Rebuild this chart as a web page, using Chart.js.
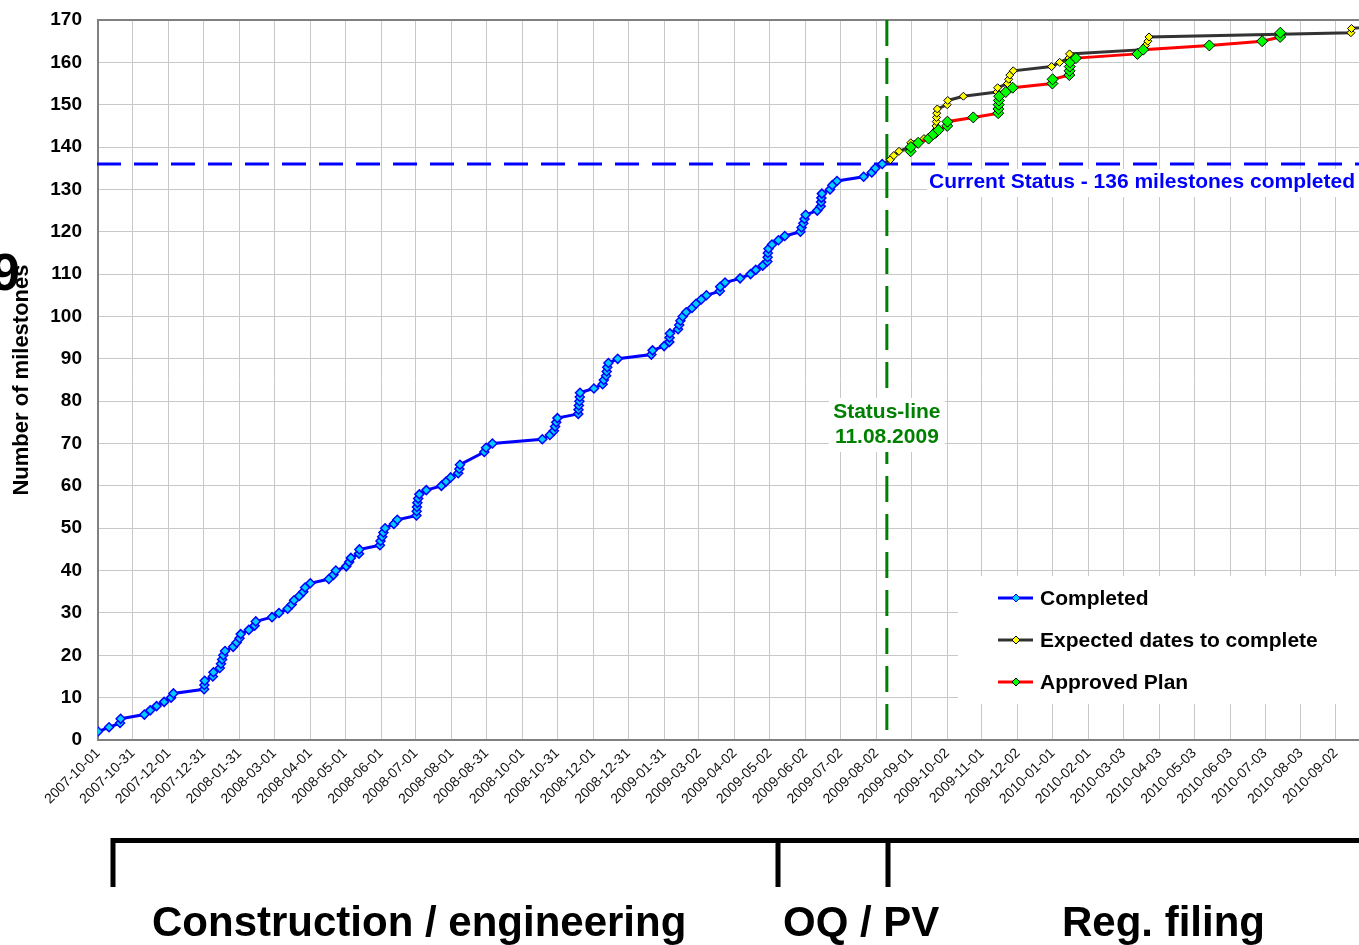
<!DOCTYPE html>
<html>
<head>
<meta charset="utf-8">
<script src="https://cdn.jsdelivr.net/npm/chart.js@4.4.1/dist/chart.umd.min.js"></script>
<style>
  body { margin: 0; background: #fff; }
  #wrap { width: 1359px; height: 945px; }
</style>
</head>
<body>
<div id="wrap"><canvas id="chart" width="1359" height="945"></canvas></div>
<script>
// day 0 of the x axis
const startDate = "2007-10-01";
const statusDate = "2009-08-11";
const currentStatus = 136;

const tickDates = [
  "2007-10-01", "2007-10-31", "2007-12-01", "2007-12-31", "2008-01-31", "2008-03-01",
  "2008-04-01", "2008-05-01", "2008-06-01", "2008-07-01", "2008-08-01", "2008-08-31",
  "2008-10-01", "2008-10-31", "2008-12-01", "2008-12-31", "2009-01-31", "2009-03-02",
  "2009-04-02", "2009-05-02", "2009-06-02", "2009-07-02", "2009-08-02", "2009-09-01",
  "2009-10-02", "2009-11-01", "2009-12-02", "2010-01-01", "2010-02-01", "2010-03-03",
  "2010-04-03", "2010-05-03", "2010-06-03", "2010-07-03", "2010-08-03", "2010-09-02"
];

// days since startDate
const completedDays = [
  0, 9.5, 19, 19.5, 40, 45, 50.5, 57, 63, 65,
  91.5, 91.7, 92, 99, 99.5, 105, 106, 107, 108, 109.5,
  116.5, 119.5, 122, 123, 130, 135, 136, 150, 156, 163.5,
  167, 169, 173.5, 177, 178.5, 183, 199, 203, 205, 214,
  216.5, 218, 225, 225.3, 243, 243.5, 245, 246, 247.5, 255,
  258, 274.5, 274.7, 274.9, 275.3, 276, 277, 283, 296, 300,
  304, 310.5, 311.5, 312,
  333, 334.5, 340,
  383, 389.5, 393, 394, 395, 396, 414, 414.2, 414.5, 415,
  415.3, 415.5, 427.5, 435, 436, 438, 438.5, 439, 440, 448,
  477, 478, 488, 492.5, 492.7, 493, 500, 501, 502, 504,
  507, 512, 515.5, 520, 524.5, 536, 536.3, 540.5, 553.5, 562.5,
  567, 573, 577, 577.2, 577.4, 578, 581, 586.5, 592, 605.5,
  606.5, 608, 609, 610, 620, 623, 623.3, 623.6, 624, 631,
  633, 637, 660, 667, 670, 676
];
const completedValues = [
  2, 3, 4, 5, 6, 7, 8, 9, 10, 11,
  12, 13, 14, 15, 16, 17, 18, 19, 20, 21,
  22, 23, 24, 25, 26, 27, 28, 29, 30, 31,
  32, 33, 34, 35, 36, 37, 38, 39, 40, 41,
  42, 43, 44, 45, 46, 47, 48, 49, 50, 51,
  52, 53, 54, 55, 56, 57, 58, 59, 60, 61,
  62, 63, 64, 65,
  68, 69, 70,
  71, 72, 73, 74, 75, 76, 77, 78, 79, 80,
  81, 82, 83, 84, 85, 86, 87, 88, 89, 90,
  91, 92, 93, 94, 95, 96, 97, 98, 99, 100,
  101, 102, 103, 104, 105, 106, 107, 108, 109, 110,
  111, 112, 113, 114, 115, 116, 117, 118, 119, 120,
  121, 122, 123, 124, 125, 126, 127, 128, 129, 130,
  131, 132, 133, 134, 135, 136
];

const expectedDays = [
  676, 683, 686, 690.5, 700, 700.6, 712, 722, 722.2, 722.4,
  722.6, 722.8, 723, 723.5, 732, 732.5, 746, 775, 775.5, 784,
  785, 786, 789, 822, 829, 837, 837.5, 901, 903, 905,
  906, 1080, 1080.5, 1120
];
const expectedValues = [
  136, 137, 138, 139, 140, 141, 142, 143, 144, 145,
  146, 147, 148, 149, 150, 151, 152, 153, 154, 155,
  156, 157, 158, 159, 160, 161, 162, 163, 164, 165,
  166, 167, 168, 169
];

const approvedDays = [
  700.5, 700.7, 707, 716, 720, 724.5, 732, 732.2, 754.5, 776,
  776.2, 776.4, 776.6, 776.8, 782.5, 788.5, 822.7, 822.9, 837.3, 837.5,
  837.7, 837.9, 843, 896, 901, 958, 1003.5, 1019, 1019.2
];
const approvedValues = [
  139, 140, 141, 142, 143, 144, 145, 146, 147, 148,
  149, 150, 151, 152, 153, 154, 155, 156, 157, 158,
  159, 160, 161, 162, 163, 164, 165, 166, 167
];

const phaseLabels = ["Construction / engineering", "OQ / PV", "Reg. filing"];

function dayOf(s) {
  return (Date.parse(s) - Date.parse(startDate)) / 86400000;
}
function pts(days, vals) {
  return days.map((d, i) => ({ x: d, y: vals[i] }));
}

function diamond(ctx, x, y, r, fill, stroke) {
  ctx.beginPath();
  ctx.moveTo(x, y - r);
  ctx.lineTo(x + r, y);
  ctx.lineTo(x, y + r);
  ctx.lineTo(x - r, y);
  ctx.closePath();
  ctx.fillStyle = fill;
  ctx.fill();
  ctx.lineWidth = 1;
  ctx.strokeStyle = stroke;
  ctx.stroke();
}

const FONT = "'Liberation Sans', Arial, sans-serif";
Chart.defaults.font.family = FONT;

const decor = {
  id: "decor",
  beforeDraw(chart) {
    const ctx = chart.ctx;
    ctx.save();
    ctx.fillStyle = "#fff";
    ctx.fillRect(0, 0, chart.width, chart.height);
    ctx.fillStyle = "#000";
    ctx.font = "bold 52px " + FONT;
    ctx.textAlign = "right";
    ctx.textBaseline = "alphabetic";
    ctx.fillText("9", 20, 290);
    ctx.restore();
  },
  beforeDatasetsDraw(chart) {
    const ctx = chart.ctx, a = chart.chartArea;
    const x = chart.scales.x, y = chart.scales.y;
    ctx.save();
    // top border
    ctx.strokeStyle = "#808080";
    ctx.lineWidth = 2;
    ctx.beginPath();
    ctx.moveTo(a.left, a.top);
    ctx.lineTo(a.right, a.top);
    ctx.stroke();
    // current status line
    const yc = y.getPixelForValue(currentStatus);
    ctx.strokeStyle = "#0000ff";
    ctx.lineWidth = 3;
    ctx.setLineDash([24, 13]);
    ctx.beginPath();
    ctx.moveTo(a.left - 1, yc);
    ctx.lineTo(a.right, yc);
    ctx.stroke();
    // status line
    const xs = x.getPixelForValue(dayOf(statusDate));
    ctx.strokeStyle = "#008000";
    ctx.setLineDash([26, 12]);
    ctx.beginPath();
    ctx.moveTo(xs, a.top);
    ctx.lineTo(xs, a.bottom);
    ctx.stroke();
    ctx.restore();
  },
  afterDatasetsDraw(chart) {
    const ctx = chart.ctx, a = chart.chartArea;
    const x = chart.scales.x, y = chart.scales.y;
    ctx.save();
    const xs = x.getPixelForValue(dayOf(statusDate));
    const yc = y.getPixelForValue(currentStatus);

    // labels with white boxes
    ctx.fillStyle = "#fff";
    ctx.fillRect(927, yc + 5, a.right - 927, 28);
    ctx.fillRect(xs - 58, 398, 116, 54);
    ctx.font = "bold 21px " + FONT;
    ctx.textBaseline = "middle";
    ctx.fillStyle = "#0000ff";
    ctx.textAlign = "right";
    ctx.fillText("Current Status - " + currentStatus + " milestones completed", 1355, yc + 18);
    ctx.fillStyle = "#008000";
    ctx.textAlign = "center";
    ctx.fillText("Status-line", xs, 412);
    ctx.fillText(statusDate.split("-").reverse().join("."), xs, 437);

    // legend
    ctx.fillStyle = "#fff";
    ctx.fillRect(958, 576, a.right - 958, 128);
    chart.data.datasets.forEach((ds, i) => {
      const ly = 598 + i * 42;
      ctx.strokeStyle = ds.borderColor;
      ctx.lineWidth = 3;
      ctx.beginPath();
      ctx.moveTo(998, ly);
      ctx.lineTo(1033, ly);
      ctx.stroke();
      diamond(ctx, 1016, ly, 4, ds.pointBackgroundColor, ds.pointBorderColor);
      ctx.fillStyle = "#000";
      ctx.textAlign = "left";
      ctx.fillText(ds.label, 1040, ly + 1);
    });
    ctx.restore();
  },
  afterDraw(chart) {
    const ctx = chart.ctx;
    ctx.save();
    ctx.fillStyle = "#000";
    ctx.fillRect(111, 838, chart.width - 111, 5);
    [113, 778, 888].forEach(px => ctx.fillRect(px - 2.5, 838, 5, 49));
    ctx.font = "bold 42px " + FONT;
    ctx.textAlign = "left";
    ctx.textBaseline = "alphabetic";
    [152, 783, 1062].forEach((px, i) => ctx.fillText(phaseLabels[i], px, 936));
    ctx.restore();
  }
};

new Chart(document.getElementById("chart"), {
  type: "line",
  data: {
    datasets: [
      {
        label: "Completed",
        data: pts(completedDays, completedValues),
        borderColor: "#0000ff",
        borderWidth: 3,
        pointStyle: "rectRot",
        pointRadius: 4.5,
        pointBackgroundColor: "#00ccff",
        pointBorderColor: "#0000ff",
        pointBorderWidth: 1.5,
        order: 0
      },
      {
        label: "Expected dates to complete",
        data: pts(expectedDays, expectedValues),
        borderColor: "#333333",
        borderWidth: 3,
        pointStyle: "rectRot",
        pointRadius: 4,
        pointBackgroundColor: "#ffff00",
        pointBorderColor: "#000000",
        pointBorderWidth: 1,
        order: 2
      },
      {
        label: "Approved Plan",
        data: pts(approvedDays, approvedValues),
        borderColor: "#ff0000",
        borderWidth: 3,
        pointStyle: "rectRot",
        pointRadius: 5.5,
        pointBackgroundColor: "#00ff00",
        pointBorderColor: "#000000",
        pointBorderWidth: 1,
        order: 1
      }
    ]
  },
  options: {
    responsive: false,
    animation: false,
    layout: { autoPadding: false, padding: { top: 20, left: 0, right: 0, bottom: 0 } },
    plugins: { legend: { display: false }, tooltip: { enabled: false } },
    scales: {
      x: {
        type: "linear",
        min: 0,
        max: 1087,
        afterBuildTicks: s => { s.ticks = tickDates.map(d => ({ value: dayOf(d) })); },
        afterFit: s => {
          s.height = 205;
          s.paddingLeft = 0;
          s.paddingRight = 0;
        },
        ticks: {
          autoSkip: false,
          maxRotation: 45,
          minRotation: 45,
          padding: 5,
          color: "#111",
          font: { size: 14 },
          callback: (v, i) => tickDates[i]
        },
        grid: { color: "#c8c8c8", lineWidth: 1, drawTicks: false },
        border: { color: "#808080", width: 2 }
      },
      y: {
        min: 0,
        max: 170,
        afterFit: s => {
          s.width = 98;
          s.paddingTop = 0;
          s.paddingBottom = 0;
        },
        ticks: { stepSize: 10, padding: 16, color: "#000", font: { size: 19, weight: "bold" } },
        title: {
          display: true,
          text: "Number of milestones",
          color: "#000",
          font: { size: 22, weight: "bold" },
          padding: { top: 9, bottom: 0 }
        },
        grid: { color: "#c8c8c8", lineWidth: 1, drawTicks: false },
        border: { color: "#808080", width: 2 }
      }
    }
  },
  plugins: [decor]
});
</script>
</body>
</html>
